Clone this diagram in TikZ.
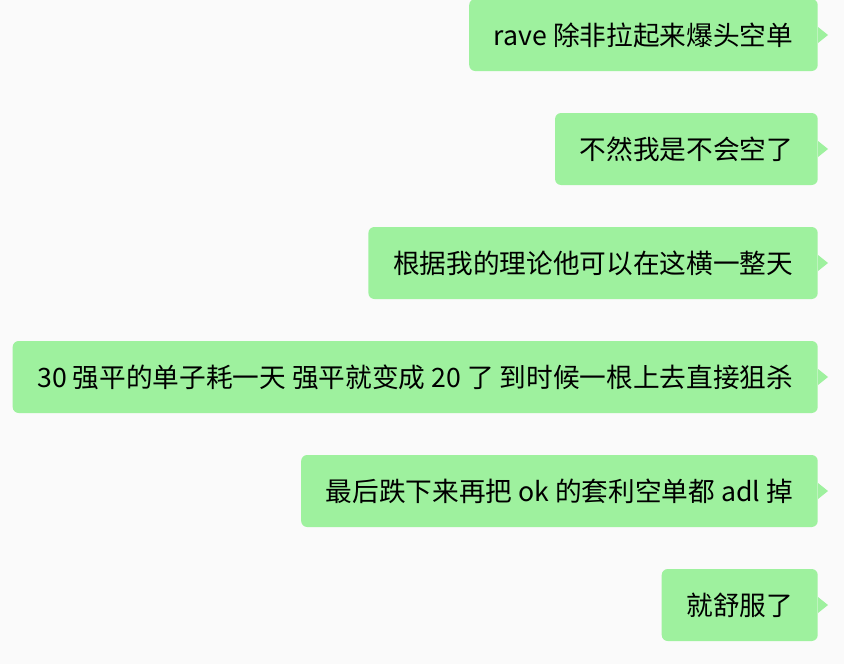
\documentclass[tikz,border=0pt]{standalone}
\usepackage{fontspec}
\setmainfont{Noto Sans CJK SC}
\definecolor{bubble}{HTML}{9EF19E}
\definecolor{bg}{HTML}{FAFAFA}
\tikzset{
  msg/.style={anchor=east,fill=bubble,rounded corners=4.5pt,minimum height=54pt,
    inner xsep=18.5pt,inner ysep=0pt,font=\fontsize{20}{24}\selectfont,text=black},
  tail/.style={fill=bubble}
}
\begin{document}
\begin{tikzpicture}[x=0.75pt,y=-0.75pt]
\fill[bg] (0,0) rectangle (844,664);
\useasboundingbox (0,0) rectangle (844,664);
% messages
\node[msg] (m1) at (818,35) {rave 除非拉起来爆头空单};
\node[msg] (m2) at (818,149) {不然我是不会空了};
\node[msg] (m3) at (818,263) {根据我的理论他可以在这横一整天};
\node[msg] (m4) at (818,377) {30 强平的单子耗一天\ 强平就变成 20 了\ 到时候一根上去直接狙杀};
\node[msg] (m5) at (818,491) {最后跌下来再把 ok 的套利空单都 adl 掉};
\node[msg] (m6) at (818,605) {就舒服了};
% tails
\foreach \m in {m1,m2,m3,m4,m5,m6}
  \fill[tail] ([yshift=6pt]\m.east) -- ([xshift=7.5pt]\m.east) -- ([yshift=-6pt]\m.east) -- cycle;
\end{tikzpicture}
\end{document}
